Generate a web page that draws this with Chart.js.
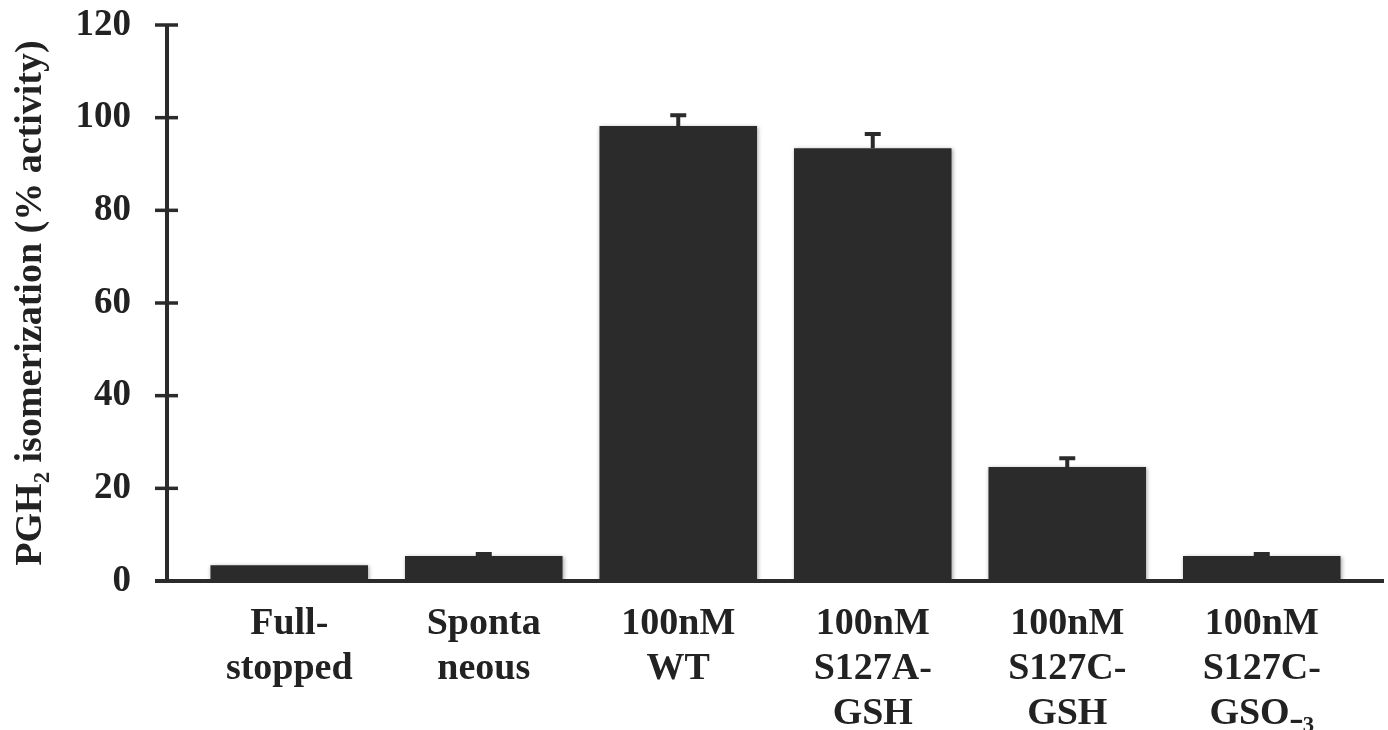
<!DOCTYPE html>
<html>
<head>
<meta charset="utf-8">
<script src="https://cdn.jsdelivr.net/npm/chart.js@4.4.1/dist/chart.umd.min.js"></script>
<style>
  html, body { margin: 0; padding: 0; background: #fff; }
  #wrap { width: 1388px; height: 730px; }
</style>
</head>
<body>
<div id="wrap"><canvas id="isoChart"></canvas></div>
<script>
const categories = [
    ['Full-', 'stopped'],
    ['Sponta', 'neous'],
    ['100nM', 'WT'],
    ['100nM', 'S127A-', 'GSH'],
    ['100nM', 'S127C-', 'GSH'],
    ['100nM', 'S127C-', 'GSO\u208B\u2083']
];
const activity = [3.4, 5.4, 98.2, 93.4, 24.6, 5.4];
const activityErr = [0, 0.45, 2.3, 3.1, 1.9, 0.45];
const yTicks = [0, 20, 40, 60, 80, 100, 120];

const ink = '#2b2b2b';
const serif = "'Liberation Serif', 'Times New Roman', serif";

// axis lines + tick marks sit a bit outside the plot area, like the original
const axisLines = {
    id: 'axisLines',
    afterDraw(chart) {
        const { ctx, chartArea, scales } = chart;
        const axisX = chartArea.left - 25;
        const y0 = scales.y.getPixelForValue(0);
        const yTop = scales.y.getPixelForValue(120);
        ctx.save();
        ctx.strokeStyle = ink;
        ctx.lineWidth = 4;
        ctx.beginPath();
        ctx.moveTo(axisX, yTop);
        ctx.lineTo(axisX, y0);
        ctx.stroke();
        ctx.lineWidth = 3.5;
        yTicks.forEach(v => {
            const y = scales.y.getPixelForValue(v);
            ctx.beginPath();
            ctx.moveTo(axisX - 12, y);
            ctx.lineTo(axisX + 11, y);
            ctx.stroke();
        });
        ctx.lineWidth = 4;
        ctx.beginPath();
        ctx.moveTo(axisX - 12, y0);
        ctx.lineTo(chartArea.right + 25, y0);
        ctx.stroke();
        ctx.restore();
    }
};

const errorBars = {
    id: 'errorBars',
    afterDatasetsDraw(chart) {
        const { ctx, scales } = chart;
        const meta = chart.getDatasetMeta(0);
        ctx.save();
        ctx.strokeStyle = ink;
        ctx.lineWidth = 4;
        meta.data.forEach((bar, i) => {
            const e = activityErr[i];
            if (!e) return;
            const yTop = scales.y.getPixelForValue(activity[i] + e);
            const yBar = scales.y.getPixelForValue(activity[i]);
            ctx.beginPath();
            ctx.moveTo(bar.x, yBar);
            ctx.lineTo(bar.x, yTop);
            ctx.moveTo(bar.x - 8, yTop);
            ctx.lineTo(bar.x + 8, yTop);
            ctx.stroke();
        });
        ctx.restore();
    }
};

const barShadow = {
    id: 'barShadow',
    beforeDatasetsDraw(chart) {
        const ctx = chart.ctx;
        ctx.save();
        ctx.shadowColor = 'rgba(0,0,0,0.35)';
        ctx.shadowBlur = 4;
        ctx.shadowOffsetX = 1;
        ctx.shadowOffsetY = 1;
    },
    afterDatasetsDraw(chart) {
        chart.ctx.restore();
    }
};

const ctxIso = document.getElementById('isoChart').getContext('2d');
new Chart(ctxIso, {
    type: 'bar',
    data: {
        labels: categories,
        datasets: [{
            label: 'PGH2 isomerization',
            data: activity,
            backgroundColor: ink,
            barPercentage: 0.81,
            categoryPercentage: 1.0
        }]
    },
    options: {
        responsive: true,
        maintainAspectRatio: false,
        animation: false,
        layout: {
            padding: { top: 25, right: 29, left: 0, bottom: 0 }
        },
        plugins: {
            legend: { display: false },
            tooltip: { enabled: false }
        },
        scales: {
            x: {
                grid: { display: false },
                border: { display: false },
                ticks: {
                    color: '#222',
                    padding: 13,
                    maxRotation: 0,
                    autoSkip: false,
                    font: { family: serif, size: 38, weight: 'bold', lineHeight: 1.18 }
                },
                afterFit(scale) { scale.height = 149; }
            },
            y: {
                min: 0,
                max: 120,
                grid: { display: false },
                border: { display: false },
                afterBuildTicks(scale) {
                    scale.ticks = yTicks.map(v => ({ value: v }));
                },
                ticks: {
                    color: '#222',
                    padding: 53,
                    font: { family: serif, size: 37, weight: 'bold' }
                },
                title: {
                    display: true,
                    text: 'PGH\u2082 isomerization (% activity)',
                    color: '#222',
                    padding: { top: 8, bottom: 0 },
                    font: { family: serif, size: 38, weight: 'bold' }
                },
                afterFit(scale) {
                    scale.width = 192;
                    scale.paddingTop = 0;
                    scale.paddingBottom = 0;
                }
            }
        }
    },
    plugins: [barShadow, errorBars, axisLines]
});
</script>
</body>
</html>
